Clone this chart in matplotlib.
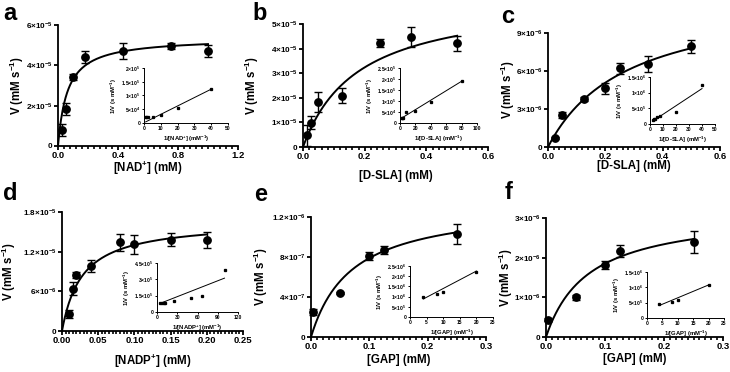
import numpy as np
import matplotlib
matplotlib.use('Agg')
import matplotlib.pyplot as plt
from matplotlib.ticker import MultipleLocator

plt.rcParams['font.family'] = ['Liberation Sans', 'DejaVu Sans']
plt.rcParams['font.weight'] = 'bold'
plt.rcParams['axes.labelweight'] = 'bold'
plt.rcParams['mathtext.fontset'] = 'custom'
plt.rcParams['mathtext.rm'] = 'Liberation Sans:bold'
plt.rcParams['mathtext.bf'] = 'Liberation Sans:bold'
plt.rcParams['mathtext.it'] = 'Liberation Sans:bold:italic'
plt.rcParams['mathtext.sf'] = 'Liberation Sans:bold'

# ---------------- data ----------------
# panel a : NAD+
a_x = [0.025, 0.05, 0.1, 0.18, 0.43, 0.75, 1.0]
a_v = [0.78e-5, 1.82e-5, 3.40e-5, 4.43e-5, 4.73e-5, 4.96e-5, 4.71e-5]
a_err = [0.3e-5, 0.3e-5, 0.15e-5, 0.3e-5, 0.4e-5, 0.15e-5, 0.3e-5]
a_fit = {'Vmax': 5.37e-5, 'Km': 0.0626}
a_inv_x = [1.0, 1.33, 2.3, 5.6, 10, 20, 40]
a_inv_y = [2.1e4, 2.0e4, 2.1e4, 2.2e4, 2.9e4, 5.3e4, 1.25e5]
a_line = {'slope': 3050, 'intercept': 1000, 'x0': 1.0, 'x1': 40}

# panel b : D-SLA
b_x = [0.0125, 0.025, 0.05, 0.125, 0.25, 0.35, 0.5]
b_v = [0.48e-5, 0.99e-5, 1.84e-5, 2.08e-5, 4.22e-5, 4.47e-5, 4.22e-5]
b_err = [0.42e-5, 0.25e-5, 0.4e-5, 0.3e-5, 0.15e-5, 0.4e-5, 0.3e-5]
b_fit = {'Vmax': 6.15e-5, 'Km': 0.18}
b_inv_x = [2, 2.86, 4, 8, 20, 40, 80]
b_inv_y = [2.4e4, 2.25e4, 2.4e4, 4.8e4, 5.4e4, 9.6e4, 1.9e5]
b_line = {'slope': 2150, 'intercept': 1.77e4, 'x0': 2, 'x1': 80}

# panel c : D-SLA
c_x = [0.025, 0.05, 0.125, 0.2, 0.25, 0.35, 0.5]
c_v = [0.71e-6, 2.51e-6, 3.76e-6, 4.63e-6, 6.22e-6, 6.56e-6, 7.94e-6]
c_err = [0.1e-6, 0.25e-6, 0.15e-6, 0.45e-6, 0.45e-6, 0.6e-6, 0.5e-6]
c_fit = {'Vmax': 12.13e-6, 'Km': 0.2776}
c_inv_x = [2, 2.86, 4, 5, 8, 20, 40]
c_inv_y = [1.2e5, 1.5e5, 1.6e5, 2.1e5, 2.5e5, 3.7e5, 1.25e6]
c_line = {'slope': 27370, 'intercept': 3.5e4, 'x0': 2, 'x1': 40}

# panel d : NADP+
d_x = [0.01, 0.015, 0.02, 0.04, 0.08, 0.1, 0.15, 0.2]
d_v = [2.56e-6, 6.4e-6, 8.5e-6, 9.8e-6, 13.4e-6, 13.1e-6, 13.8e-6, 13.7e-6]
d_err = [0.6e-6, 1.0e-6, 0.5e-6, 0.9e-6, 1.3e-6, 1.4e-6, 1.0e-6, 1.2e-6]
d_fit = {'Vmax': 16.64e-6, 'Km': 0.0279}
d_inv_x = [5, 6.67, 10, 12.5, 25, 50, 66.7, 100]
d_inv_y = [0.8e5, 0.8e5, 0.82e5, 0.84e5, 1.05e5, 1.25e5, 1.5e5, 3.9e5]
d_line = {'slope': 2430, 'intercept': 6.8e4, 'x0': 5, 'x1': 100}

# panel e : GAP
e_x = [0.003, 0.05, 0.1, 0.125, 0.25]
e_v = [2.5e-7, 4.43e-7, 8.1e-7, 8.72e-7, 10.3e-7]
e_err = [0.3e-7, 0.1e-7, 0.4e-7, 0.4e-7, 1.0e-7]
e_fit = {'Vmax': 13.39e-7, 'Km': 0.0697}
e_inv_x = [4, 8, 10, 20]
e_inv_y = [0.97e6, 1.15e6, 1.22e6, 2.23e6]
e_line = {'slope': 85600, 'intercept': 5.4e5, 'x0': 4, 'x1': 20}

# panel f : GAP
f_x = [0.003, 0.05, 0.1, 0.125, 0.25]
f_v = [0.44e-6, 1.0e-6, 1.82e-6, 2.16e-6, 2.39e-6]
f_err = [0.03e-6, 0.06e-6, 0.1e-6, 0.15e-6, 0.27e-6]
f_fit = {'Vmax': 3.18e-6, 'Km': 0.0719}
f_inv_x = [4, 8, 10, 20]
f_inv_y = [4.5e5, 5.2e5, 5.9e5, 1.08e6]
f_line = {'slope': 41900, 'intercept': 2.4e5, 'x0': 4, 'x1': 20}

# axis ticks
a_xticks = [0, 0.4, 0.8, 1.2]; a_yticks = [0, 2e-5, 4e-5, 6e-5]
b_xticks = [0, 0.2, 0.4, 0.6]; b_yticks = [0, 1e-5, 2e-5, 3e-5, 4e-5, 5e-5]
c_xticks = [0, 0.2, 0.4, 0.6]; c_yticks = [0, 3e-6, 6e-6, 9e-6]
d_xticks = [0, 0.05, 0.10, 0.15, 0.20, 0.25]; d_yticks = [0, 6e-6, 1.2e-5, 1.8e-5]
e_xticks = [0, 0.1, 0.2, 0.3]; e_yticks = [0, 4e-7, 8e-7, 1.2e-6]
f_xticks = [0, 0.1, 0.2, 0.3]; f_yticks = [0, 1e-6, 2e-6, 3e-6]

a_ixticks = [0, 10, 20, 30, 40, 50]; a_iyticks = [0, 5e4, 1e5, 1.5e5, 2e5]
b_ixticks = [0, 20, 40, 60, 80, 100]; b_iyticks = [0, 5e4, 1e5, 1.5e5, 2e5, 2.5e5]
c_ixticks = [0, 10, 20, 30, 40, 50]; c_iyticks = [0, 5e5, 1e6, 1.5e6]
d_ixticks = [0, 30, 60, 90, 120]; d_iyticks = [0, 1.5e5, 3e5, 4.5e5]
e_ixticks = [0, 5, 10, 15, 20, 25]; e_iyticks = [0, 5e5, 1e6, 1.5e6, 2e6, 2.5e6]
f_ixticks = [0, 5, 10, 15, 20, 25]; f_iyticks = [0, 5e5, 1e6, 1.5e6]

a_xlabel = r'[NAD$^{+}$] (mM)'
b_xlabel = '[D-SLA] (mM)'
c_xlabel = '[D-SLA] (mM)'
d_xlabel = r'[NADP$^{+}$] (mM)'
e_xlabel = '[GAP] (mM)'
f_xlabel = '[GAP] (mM)'
ylabel = r'V (mM s$^{-1}$)'
a_ixlabel = r'1/[NAD$^{+}$] (mM$^{-1}$)'
b_ixlabel = r'1/[D-SLA] (mM$^{-1}$)'
c_ixlabel = r'1/[D-SLA] (mM$^{-1}$)'
d_ixlabel = r'1/[NADP$^{+}$] (mM$^{-1}$)'
e_ixlabel = r'1/[GAP] (mM$^{-1}$)'
f_ixlabel = r'1/[GAP] (mM$^{-1}$)'
iylabel = r'1/V (s mM$^{-1}$)'


def sci(v):
    if v == 0:
        return '0'
    e = int(np.floor(np.log10(abs(v)) + 1e-9))
    m = v / 10 ** e
    ms = ('%.1f' % m).rstrip('0').rstrip('.')
    return r'$%s{\times}10^{%d}$' % (ms, e)


W, H = 730, 372
fig = plt.figure(figsize=(7.3, 3.72), dpi=100)


def px_rect(x0, y0, x1, y1):
    return [x0 / W, 1 - y1 / H, (x1 - x0) / W, (y1 - y0) / H]


def main_panel(rect, x, v, err, fit, xticks, yticks, xfmt, minor, xlabel,
               ylab_x, xlab_y, letter, letter_xy):
    ax = fig.add_axes(rect)
    ax.errorbar(x, v, yerr=err, fmt='o', color='black', ms=5.3,
                ecolor='black', elinewidth=1.0, capsize=3, capthick=1.0,
                zorder=3, clip_on=False)
    xx = np.linspace(0, max(x), 300)
    ax.plot(xx, fit['Vmax'] * xx / (fit['Km'] + xx), color='black', lw=1.4,
            zorder=4, clip_on=False)
    ax.set_xlim(xticks[0], xticks[-1])
    ax.set_ylim(yticks[0], yticks[-1])
    ax.set_xticks(xticks)
    ax.set_xticklabels([xfmt % t for t in xticks])
    ax.set_yticks(yticks)
    ax.set_yticklabels([sci(t) for t in yticks])
    ax.xaxis.set_minor_locator(MultipleLocator(minor))
    for s in ['top', 'right']:
        ax.spines[s].set_visible(False)
    for s in ['left', 'bottom']:
        ax.spines[s].set_linewidth(1.3)
    ax.tick_params(which='major', direction='out', length=3.0, width=1.3,
                   labelsize=5.9, pad=1.0)
    ax.tick_params(axis='x', which='major', labelsize=6.8, pad=0.6)
    ax.tick_params(axis='x', which='minor', direction='out', length=2.4,
                   width=1.2)
    ax.set_xlabel(xlabel, fontsize=8.3, fontweight='bold')
    ax.set_ylabel(ylabel, fontsize=8.3, fontweight='bold')
    ax.yaxis.label.set_va('center')
    ax.xaxis.label.set_va('center')
    ax.yaxis.set_label_coords(ylab_x, 0.5)
    ax.xaxis.set_label_coords(0.5, xlab_y)
    fig.text(letter_xy[0] / W, 1 - letter_xy[1] / H, letter, fontsize=17,
             fontweight='bold', ha='left', va='top')
    return ax


def inset_panel(rect, x, y, line, xticks, yticks, xlabel):
    ax = fig.add_axes(rect)
    ax.plot(x, y, 's', color='black', ms=1.4, clip_on=False, zorder=3)
    lx = np.array([line['x0'], line['x1']])
    ax.plot(lx, line['slope'] * lx + line['intercept'], color='black',
            lw=0.7, clip_on=False)
    ax.set_xlim(xticks[0], xticks[-1])
    ax.set_ylim(yticks[0], yticks[-1])
    ax.set_xticks(xticks)
    ax.set_yticks(yticks)
    ax.set_yticklabels([sci(t) for t in yticks])
    for s in ['top', 'right']:
        ax.spines[s].set_visible(False)
    for s in ['left', 'bottom']:
        ax.spines[s].set_linewidth(0.7)
    ax.tick_params(direction='out', length=1.5, width=0.7, labelsize=3.6,
                   pad=1)
    ax.set_xlabel(xlabel, fontsize=4.2, fontweight='bold', labelpad=1.5)
    ax.set_ylabel(iylabel, fontsize=4.2, fontweight='bold', labelpad=1.5)
    ax.patch.set_alpha(0)
    return ax


# main panels
main_panel(px_rect(58, 25, 238, 146), a_x, a_v, a_err, a_fit, a_xticks,
           a_yticks, '%.1f', 0.04, a_xlabel, -0.228, -0.185, 'a', (3, 2))
main_panel(px_rect(303, 24, 488, 147), b_x, b_v, b_err, b_fit, b_xticks,
           b_yticks, '%.1f', 0.02, b_xlabel, -0.276, -0.236, 'b', (252, 2))
main_panel(px_rect(548, 33, 720, 147), c_x, c_v, c_err, c_fit, c_xticks,
           c_yticks, '%.1f', 0.02, c_xlabel, -0.232, -0.17, 'c', (501, 5))
main_panel(px_rect(62, 212, 243, 331), d_x, d_v, d_err, d_fit, d_xticks,
           d_yticks, '%.2f', 0.005, d_xlabel, -0.293, -0.252, 'd', (3, 182))
main_panel(px_rect(311, 217, 486, 337), e_x, e_v, e_err, e_fit, e_xticks,
           e_yticks, '%.1f', 0.01, e_xlabel, -0.286, -0.19, 'e', (254, 183))
main_panel(px_rect(546, 218, 723, 337), f_x, f_v, f_err, f_fit, f_xticks,
           f_yticks, '%.1f', 0.01, f_xlabel, -0.228, -0.185, 'f', (505, 181))

# insets
inset_panel(px_rect(144, 68, 228, 123), a_inv_x, a_inv_y, a_line, a_ixticks,
            a_iyticks, a_ixlabel)
inset_panel(px_rect(400, 68, 477, 123), b_inv_x, b_inv_y, b_line, b_ixticks,
            b_iyticks, b_ixlabel)
inset_panel(px_rect(650, 77, 715, 124), c_inv_x, c_inv_y, c_line, c_ixticks,
            c_iyticks, c_ixlabel)
inset_panel(px_rect(157, 263, 238, 312), d_inv_x, d_inv_y, d_line, d_ixticks,
            d_iyticks, d_ixlabel)
inset_panel(px_rect(410, 266, 493, 317), e_inv_x, e_inv_y, e_line, e_ixticks,
            e_iyticks, e_ixlabel)
inset_panel(px_rect(647, 272, 724, 318), f_inv_x, f_inv_y, f_line, f_ixticks,
            f_iyticks, f_ixlabel)

fig.savefig('out.png', dpi=100)
